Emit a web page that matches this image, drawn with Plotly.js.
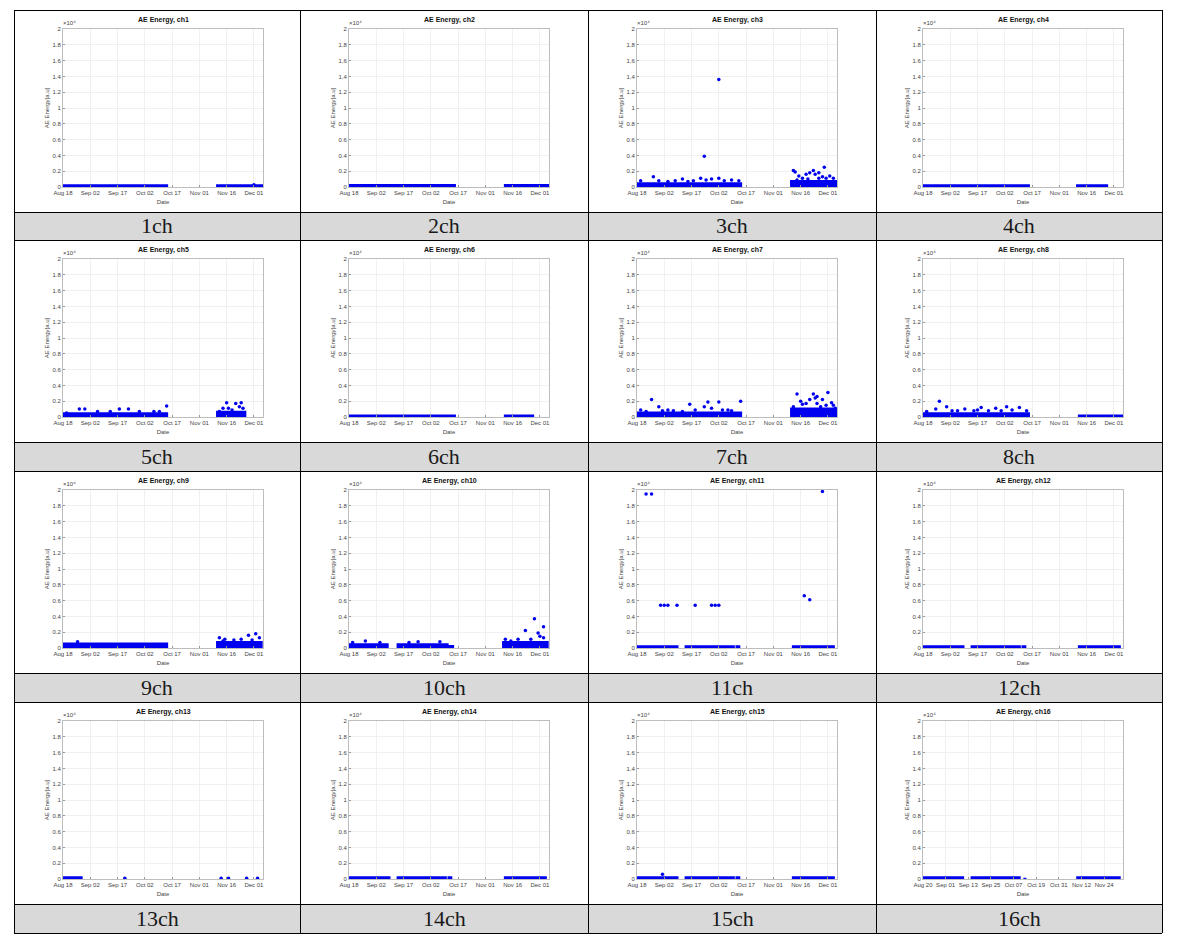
<!DOCTYPE html>
<html><head><meta charset="utf-8">
<script src="https://cdn.plot.ly/plotly-3.0.1.min.js"></script>
<style>html,body{margin:0;padding:0;background:#fff;}#chart{width:1183px;height:940px;}</style>
</head><body><div id="chart"></div>
<script>
// ---------- axis / label data ----------
const channelNames = ['ch1','ch2','ch3','ch4','ch5','ch6','ch7','ch8','ch9','ch10','ch11','ch12','ch13','ch14','ch15','ch16'];
const cellLabels = ['1ch','2ch','3ch','4ch','5ch','6ch','7ch','8ch','9ch','10ch','11ch','12ch','13ch','14ch','15ch','16ch'];
const dateRange = ['2016-08-18','2016-12-06'];
const dateTicks = ['2016-08-18','2016-09-02','2016-09-17','2016-10-02','2016-10-17','2016-11-01','2016-11-16','2016-12-01'];
const dateTickText = ['Aug 18','Sep 02','Sep 17','Oct 02','Oct 17','Nov 01','Nov 16','Dec 01'];
const ch16Range = ['2016-08-20','2016-12-04'];
const ch16Ticks = ['2016-08-20','2016-09-01','2016-09-13','2016-09-25','2016-10-07','2016-10-19','2016-10-31','2016-11-12','2016-11-24'];
const ch16TickText = ['Aug 20','Sep 01','Sep 13','Sep 25','Oct 07','Oct 19','Oct 31','Nov 12','Nov 24'];
const energyTicks = [0,0.2,0.4,0.6,0.8,1,1.2,1.4,1.6,1.8,2];
const energyTickText = ['0','0.2','0.4','0.6','0.8','1','1.2','1.4','1.6','1.8','2'];

// ---------- per-channel data (energy in units of 10^4 a.u.) ----------
// dense bands: [start, end, upper envelope]
const ch1_bands = [['2016-08-18','2016-10-14',0.015],['2016-11-11','2016-12-06',0.015]];
const ch1_dates = ['2016-12-01'];
const ch1_energy = [0.03];

const ch2_bands = [['2016-08-18','2016-10-15',0.02],['2016-11-12','2016-12-06',0.02]];
const ch2_dates = [];
const ch2_energy = [];

const ch3_bands = [['2016-08-18','2016-10-14',0.04],['2016-11-11','2016-12-06',0.07]];
const ch3_dates = ['2016-09-24','2016-10-02','2016-08-20','2016-08-27','2016-08-30','2016-09-04','2016-09-08','2016-09-12','2016-09-15','2016-09-18','2016-09-22','2016-09-25','2016-09-28','2016-10-02','2016-10-05','2016-10-09','2016-10-13',
  '2016-11-12','2016-11-13','2016-11-15','2016-11-17','2016-11-19','2016-11-21','2016-11-23','2016-11-24','2016-11-26','2016-11-28','2016-11-29','2016-11-30','2016-12-02','2016-12-04','2016-11-14','2016-11-20','2016-11-26'];
const ch3_energy = [0.39,1.36,0.08,0.13,0.08,0.07,0.08,0.10,0.07,0.08,0.11,0.09,0.10,0.11,0.08,0.09,0.08,
  0.21,0.19,0.14,0.11,0.16,0.18,0.21,0.16,0.18,0.13,0.25,0.11,0.14,0.11,0.09,0.10,0.11];

const ch4_bands = [['2016-08-18','2016-10-15',0.015],['2016-11-11','2016-11-27',0.015]];
const ch4_dates = [];
const ch4_energy = [];

const ch5_bands = [['2016-08-18','2016-10-14',0.04],['2016-11-11','2016-11-26',0.06]];
const ch5_dates = ['2016-08-20','2016-08-27','2016-08-30','2016-09-06','2016-09-13','2016-09-18','2016-09-23','2016-09-29','2016-10-07','2016-10-10','2016-10-14',
  '2016-11-12','2016-11-14','2016-11-16','2016-11-17','2016-11-19','2016-11-21','2016-11-23','2016-11-24','2016-11-25'];
const ch5_energy = [0.05,0.10,0.10,0.07,0.07,0.10,0.10,0.07,0.07,0.07,0.14,
  0.07,0.11,0.18,0.11,0.09,0.17,0.13,0.18,0.11];

const ch6_bands = [['2016-08-18','2016-10-15',0.012],['2016-11-12','2016-11-27',0.012]];
const ch6_dates = [];
const ch6_energy = [];

const ch7_bands = [['2016-08-18','2016-10-14',0.05],['2016-11-11','2016-12-06',0.10]];
const ch7_dates = ['2016-08-20','2016-08-23','2016-08-26','2016-08-30','2016-09-01','2016-09-04','2016-09-07','2016-09-12','2016-09-16','2016-09-19','2016-09-24','2016-09-26','2016-09-28','2016-10-02','2016-10-04','2016-10-07','2016-10-09','2016-10-14',
  '2016-11-12','2016-11-14','2016-11-16','2016-11-17','2016-11-19','2016-11-21','2016-11-23','2016-11-24','2016-11-25','2016-11-25','2016-11-27','2016-11-28','2016-11-30','2016-12-01','2016-12-03','2016-12-04','2016-12-05'];
const ch7_energy = [0.09,0.07,0.22,0.13,0.08,0.09,0.08,0.07,0.16,0.09,0.13,0.19,0.11,0.19,0.09,0.09,0.08,0.20,
  0.13,0.29,0.20,0.16,0.17,0.22,0.29,0.24,0.26,0.17,0.13,0.22,0.15,0.31,0.18,0.15,0.11];

const ch8_bands = [['2016-08-18','2016-10-15',0.04],['2016-11-12','2016-12-06',0.012]];
const ch8_dates = ['2016-08-20','2016-08-25','2016-08-27','2016-08-31','2016-09-03','2016-09-06','2016-09-10','2016-09-15','2016-09-17','2016-09-19','2016-09-23','2016-09-27','2016-09-30','2016-10-03','2016-10-06','2016-10-10','2016-10-14'];
const ch8_energy = [0.07,0.10,0.20,0.13,0.08,0.08,0.10,0.08,0.09,0.12,0.08,0.11,0.08,0.13,0.09,0.12,0.08];

const ch9_bands = [['2016-08-18','2016-10-14',0.05],['2016-11-11','2016-12-05',0.07]];
const ch9_dates = ['2016-08-26','2016-11-12','2016-11-14','2016-11-15','2016-11-20','2016-11-24','2016-11-28','2016-11-30','2016-12-02','2016-12-04'];
const ch9_energy = [0.08,0.13,0.09,0.11,0.10,0.11,0.16,0.10,0.18,0.13];

const ch10_bands = [['2016-08-18','2016-09-08',0.04],['2016-09-14','2016-10-11',0.04],['2016-10-12','2016-10-14',0.02],['2016-11-11','2016-12-05',0.07]];
const ch10_dates = ['2016-08-20','2016-08-27','2016-09-04','2016-09-20','2016-09-25','2016-10-07','2016-11-12','2016-11-15','2016-11-19','2016-11-23','2016-11-26','2016-11-28','2016-11-30','2016-12-01','2016-12-03','2016-12-03'];
const ch10_energy = [0.07,0.09,0.07,0.07,0.08,0.08,0.11,0.09,0.11,0.22,0.11,0.37,0.19,0.15,0.27,0.13];

const ch11_bands = [['2016-08-18','2016-09-09',0.015],['2016-09-14','2016-10-10',0.015],['2016-10-12','2016-10-13',0.015],['2016-11-12','2016-12-04',0.015]];
const ch11_dates = ['2016-08-23','2016-08-26','2016-08-31','2016-09-02','2016-09-04','2016-09-09','2016-09-19','2016-09-28','2016-09-30','2016-10-02','2016-11-18','2016-11-21','2016-11-28'];
const ch11_energy = [1.95,1.95,0.54,0.54,0.54,0.54,0.54,0.54,0.54,0.54,0.66,0.61,1.98];

const ch12_bands = [['2016-08-18','2016-09-09',0.015],['2016-09-14','2016-10-10',0.015],['2016-10-12','2016-10-13',0.015],['2016-11-12','2016-12-04',0.015]];
const ch12_dates = [];
const ch12_energy = [];

const ch13_bands = [['2016-08-18','2016-08-28',0.015]];
const ch13_dates = ['2016-09-21','2016-11-13','2016-11-17','2016-11-27','2016-12-03'];
const ch13_energy = [0.008,0.008,0.008,0.008,0.008];

const ch14_bands = [['2016-08-18','2016-09-09',0.015],['2016-09-14','2016-10-10',0.015],['2016-10-12','2016-10-13',0.015],['2016-11-12','2016-12-04',0.015]];
const ch14_dates = [];
const ch14_energy = [];

const ch15_bands = [['2016-08-18','2016-09-09',0.015],['2016-09-14','2016-10-10',0.015],['2016-10-12','2016-10-13',0.015],['2016-11-12','2016-12-04',0.015]];
const ch15_dates = ['2016-09-01'];
const ch15_energy = [0.06];

const ch16_bands = [['2016-08-20','2016-09-10',0.015],['2016-09-15','2016-10-10',0.015],['2016-10-13','2016-10-13',0.015],['2016-11-10','2016-12-02',0.015]];
const ch16_dates = [];
const ch16_energy = [];

const allBands = [ch1_bands,ch2_bands,ch3_bands,ch4_bands,ch5_bands,ch6_bands,ch7_bands,ch8_bands,ch9_bands,ch10_bands,ch11_bands,ch12_bands,ch13_bands,ch14_bands,ch15_bands,ch16_bands];
const allDates = [ch1_dates,ch2_dates,ch3_dates,ch4_dates,ch5_dates,ch6_dates,ch7_dates,ch8_dates,ch9_dates,ch10_dates,ch11_dates,ch12_dates,ch13_dates,ch14_dates,ch15_dates,ch16_dates];
const allEnergy = [ch1_energy,ch2_energy,ch3_energy,ch4_energy,ch5_energy,ch6_energy,ch7_energy,ch8_energy,ch9_energy,ch10_energy,ch11_energy,ch12_energy,ch13_energy,ch14_energy,ch15_energy,ch16_energy];

// ---------- layout geometry (pixels) ----------
const W = 1183, H = 940;
const colX = [14, 300, 588, 876, 1162];
const rowTop = [10, 240, 471, 702];
const labelTop = [212, 442, 673, 904];
const labelBot = [240, 471, 702, 933];
const plotOffX = [49, 49, 49, 47];
const plotW = 200, plotOffTop = 19, plotOffBot = 177;
const px = x => x / W;
const py = y => 1 - y / H;
const BLUE = '#0000f0';

const traces = [];
const layout = {
  width: W, height: H, autosize: false,
  margin: {l:0, r:0, t:0, b:0, pad:0},
  paper_bgcolor: '#ffffff', plot_bgcolor: '#ffffff',
  showlegend: false,
  font: {family: 'Liberation Sans, Arial, sans-serif', size: 6, color: '#333'},
  annotations: [], shapes: []
};

for (let i = 0; i < 16; i++) {
  const r = Math.floor(i / 4), c = i % 4;
  const sfx = i === 0 ? '' : String(i + 1);
  const xa = 'x' + sfx, ya = 'y' + sfx;
  const left = colX[c] + plotOffX[c];
  const top = rowTop[r] + plotOffTop, bot = rowTop[r] + plotOffBot;
  const is16 = i === 15;

  layout['xaxis' + sfx] = {
    domain: [px(left), px(left + plotW)], anchor: ya, type: 'date',
    range: is16 ? ch16Range : dateRange,
    tickvals: is16 ? ch16Ticks : dateTicks,
    ticktext: is16 ? ch16TickText : dateTickText,
    tickfont: {size: 6, color: '#444'}, ticks: 'inside', ticklen: 2, tickcolor: '#999',
    showline: true, mirror: true, linecolor: '#bdbdbd', linewidth: 1,
    showgrid: true, gridcolor: '#f0f0f0', zeroline: false, fixedrange: true,
    title: {text: 'Date', font: {size: 6, color: '#444'}, standoff: 4}
  };
  layout['yaxis' + sfx] = {
    domain: [py(bot), py(top)], anchor: xa, range: [0, 2],
    tickvals: energyTicks, ticktext: energyTickText,
    tickfont: {size: 6, color: '#444'}, ticks: 'inside', ticklen: 2, tickcolor: '#999',
    showline: true, mirror: true, linecolor: '#bdbdbd', linewidth: 1,
    showgrid: true, gridcolor: '#f0f0f0', zeroline: false, fixedrange: true,
    title: {text: 'AE Energy[a.u]', font: {size: 6, color: '#444'}, standoff: 2}
  };

  // dense bands
  allBands[i].forEach(b => {
    traces.push({
      type: 'scatter', mode: 'lines', xaxis: xa, yaxis: ya,
      x: [b[0], b[1], b[1], b[0], b[0]], y: [0, 0, b[2], b[2], 0],
      fill: 'toself', fillcolor: BLUE,
      line: {color: BLUE, width: 3}, hoverinfo: 'skip'
    });
  });
  // individual events
  if (allDates[i].length) {
    traces.push({
      type: 'scatter', mode: 'markers', xaxis: xa, yaxis: ya,
      x: allDates[i], y: allEnergy[i], cliponaxis: false,
      marker: {color: BLUE, size: 3.5, line: {width: 0}}
    });
  }

  // subplot title
  layout.annotations.push({
    xref: 'paper', yref: 'paper', x: px(left + plotW / 2), y: py(top - 3),
    xanchor: 'center', yanchor: 'bottom', showarrow: false,
    text: 'AE Energy, ' + channelNames[i],
    font: {size: 7, color: '#111', family: 'Liberation Sans, Arial, sans-serif', weight: 'bold'}
  });
  // exponent (unicode superscript)
  layout.annotations.push({
    xref: 'paper', yref: 'paper', x: px(left - 2), y: py(top - 1),
    xanchor: 'left', yanchor: 'bottom', showarrow: false,
    text: '\u00d710\u2074', font: {size: 6, color: '#444'}
  });
  // cell label
  layout.annotations.push({
    xref: 'paper', yref: 'paper', x: px((colX[c] + colX[c + 1]) / 2), y: py((labelTop[r] + labelBot[r]) / 2),
    xanchor: 'center', yanchor: 'middle', showarrow: false,
    text: cellLabels[i], font: {size: 22, color: '#1a1a1a', family: 'Liberation Serif, DejaVu Serif, serif'}
  });
}

// table: gray label rows and black grid lines
for (let r = 0; r < 4; r++) {
  layout.shapes.push({type: 'rect', xref: 'paper', yref: 'paper', layer: 'below',
    x0: px(colX[0]), x1: px(colX[4]), y0: py(labelBot[r]), y1: py(labelTop[r]),
    fillcolor: '#d9d9d9', line: {width: 0}});
}
const hLines = [10, 212, 240, 442, 471, 673, 702, 904, 933];
hLines.forEach(y => layout.shapes.push({type: 'line', xref: 'paper', yref: 'paper',
  x0: px(colX[0]), x1: px(colX[4]), y0: py(y + 0.5), y1: py(y + 0.5), line: {color: '#000', width: 1}}));
colX.forEach(x => layout.shapes.push({type: 'line', xref: 'paper', yref: 'paper',
  x0: px(x + 0.5), x1: px(x + 0.5), y0: py(10), y1: py(933), line: {color: '#000', width: 1}}));

Plotly.newPlot('chart', traces, layout, {staticPlot: true, displayModeBar: false});
</script>
</body></html>
